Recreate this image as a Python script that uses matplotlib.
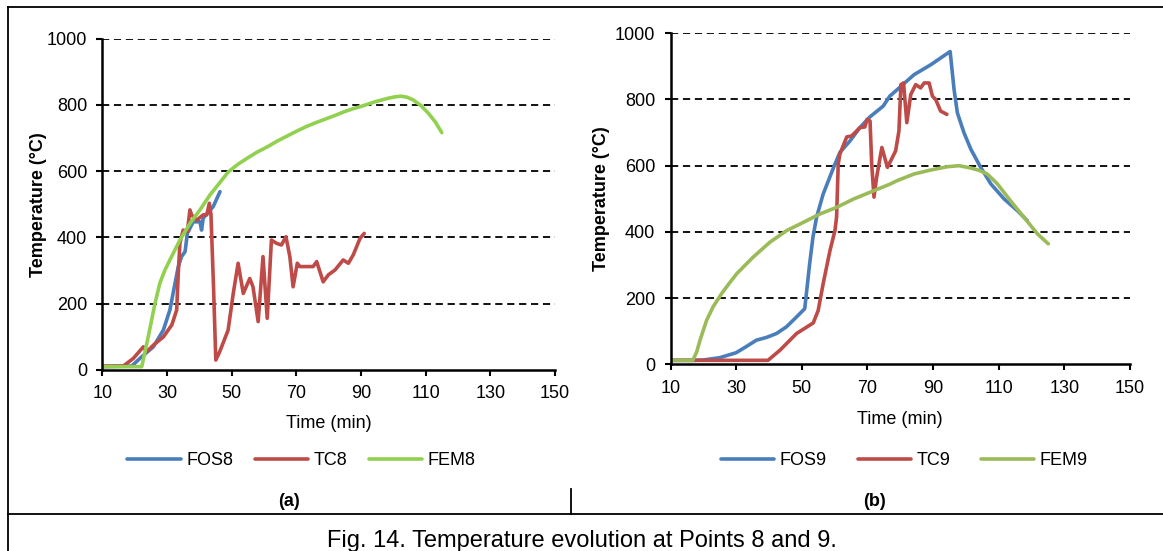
import matplotlib
matplotlib.use('Agg')
import matplotlib.pyplot as plt
from matplotlib.lines import Line2D

plt.rcParams['font.family'] = ['Liberation Sans', 'DejaVu Sans']

# ---- data, panel (a) : point 8
fos8_t = [10, 19.1, 22.2, 25.8, 28.9, 30.9, 32.5, 33.5, 34.5, 35.6, 36.3, 38.1, 40.2, 40.7, 41.2, 44.3, 46.4]
fos8_T = [10, 12, 40, 70, 121, 181, 262, 312, 342, 357, 412, 447, 447, 422, 458, 493, 538]

tc8_t = [10, 16.5, 19.6, 22.7, 23.7, 25.8, 28.9, 31.5, 33, 33.5, 34, 35, 36.3, 37.1, 37.6, 39.2,
         41.2, 42.3, 43.1, 43.6, 44.4, 45.1, 46.3, 48.9, 50.5, 52, 53.6, 55.6, 56.6, 58.2, 59.7,
         61, 62.3, 63.9, 65.4, 66.8, 68, 69, 70.3, 71.1, 75.2, 76.3, 78.3, 79.9, 82, 84.5, 86.1,
         87.6, 89.7, 91]
tc8_T = [12, 12, 35, 70, 55, 75, 100, 136, 181, 292, 382, 422, 417, 483, 468, 452,
         468, 468, 503, 470, 250, 30, 55, 120, 231, 322, 231, 276, 251, 146, 342,
         156, 392, 382, 377, 402, 342, 251, 322, 312, 312, 327, 266, 287, 302, 332, 322,
         347, 397, 412]

fem8_t = [10, 22.2, 24.2, 26.3, 27.8, 29.3, 30.9, 34, 37.1, 40.2, 43.3, 46.4, 49, 52, 55, 58,
          61.2, 64, 67, 70, 73, 76, 79, 82, 84.8, 87.5, 90, 94.3, 98.5, 100.5, 102.3, 104.2,
          106.1, 108.5, 110.9, 113, 115]
fem8_T = [10, 10, 100, 201, 262, 300, 332, 392, 442, 483, 528, 566, 598, 621, 640, 658,
          674, 690, 705, 720, 734, 746, 757, 768, 779, 788, 795, 809, 820, 824, 826, 823,
          815, 798, 774, 748, 716]

# ---- data, panel (b) : point 9
fos9_t = [10, 17, 20, 25, 30, 33, 36.2, 39.2, 42.3, 45.3, 48.4, 50.9, 52.4, 53.4, 54.5, 56.5,
          59.5, 61.6, 64.7, 67.7, 70.7, 74.8, 76.8, 79.1, 84.2, 89.3, 95.2, 96.4, 97.4, 99.4,
          101.5, 104.5, 107.6, 111.6, 115.7, 118.7]
fos9_T = [12, 12, 13, 20, 35, 53, 73, 81, 93, 113, 143, 168, 304, 384, 444, 514,
          590, 640, 675, 715, 747, 780, 810, 830, 875, 905, 945, 830, 760, 700,
          650, 595, 545, 500, 464, 434]

tc9_t = [10, 39.7, 43.4, 48.4, 53.5, 55, 56.5, 58.6, 60.1, 60.6, 61.1, 61.6, 63.7, 65.2, 67.7,
         69.2, 69.9, 70.8, 71.3, 72, 72.8, 74.4, 76.1, 78.6, 79.6, 80.2, 81, 82, 83.2, 84.7,
         86.2, 87.3, 88.8, 89.8, 90.8, 92.3, 94.2]
tc9_T = [12, 12, 43, 93, 125, 163, 243, 344, 404, 444, 605, 635, 687, 690, 715,
         717, 740, 735, 605, 505, 565, 655, 595, 645, 705, 845, 850, 730, 815, 845,
         835, 850, 850, 810, 800, 765, 755]

fem9_t = [10, 16.8, 18, 19, 21, 23, 25.6, 28, 30.2, 35.2, 40.3, 45.4, 50.5, 55.5, 60.6, 65.7, 70.6,
          76.8, 79.1, 84.2, 89.3, 94.4, 97.9, 101.5, 104, 106.5, 109.6, 113.6, 117.7, 121.8, 125.1]
fem9_T = [12, 12, 38, 73, 133, 174, 214, 246, 274, 324, 369, 404, 429, 454, 474, 499, 519,
          544, 555, 575, 587, 597, 600, 593, 586, 575, 545, 494, 444, 394, 364]

x_ticks = [10, 30, 50, 70, 90, 110, 130, 150]
y_ticks = [0, 200, 400, 600, 800, 1000]

W, H = 1163, 551
fig = plt.figure(figsize=(W / 100, H / 100), dpi=100)

blue = '#4A7EBB'
red = '#BE4B48'


def panel(rect, series, green, xlab_y, ylab_x, leg_xy, colsp):
    ax = fig.add_axes(rect)
    for (t, T, name), col in zip(series, [blue, red, green]):
        ax.plot(t, T, color=col, lw=2.6, label=name, solid_joinstyle='round',
                solid_capstyle='round')
    ax.set_xlim(10, 150)
    ax.set_ylim(0, 1000)
    ax.set_xticks(x_ticks)
    ax.set_yticks(y_ticks)
    for v in y_ticks[1:]:
        ax.axhline(v, color='black', lw=1.3, dashes=(4, 2.6), zorder=0)
    for s in ['top', 'right']:
        ax.spines[s].set_visible(False)
    for s in ['left', 'bottom']:
        ax.spines[s].set_linewidth(1.8)
    ax.tick_params(direction='out', length=4, width=1.5, pad=7, labelsize=13)
    ax.set_xlabel('Time (min)', fontsize=13)
    ax.xaxis.set_label_coords(0.5, xlab_y)
    ax.set_ylabel('Temperature (°C)', fontsize=13, fontweight='bold', va='center')
    ax.yaxis.set_label_coords(ylab_x, 0.5)
    ax.legend(loc='center', bbox_to_anchor=leg_xy, bbox_transform=fig.transFigure,
              ncol=3, frameon=False, fontsize=13, handlelength=2.95,
              handletextpad=0.3, columnspacing=colsp)
    return ax


panel([102.3 / W, 1 - 370 / H, 452.7 / W, 331.5 / H],
      [(fos8_t, fos8_T, 'FOS8'), (tc8_t, tc8_T, 'TC8'), (fem8_t, fem8_T, 'FEM8')],
      '#92D050', -0.136, -0.142, (301.5 / W, 1 - 460.7 / H), 1.2)

panel([670.5 / W, 1 - 364.3 / H, 459.5 / W, 331 / H],
      [(fos9_t, fos9_T, 'FOS9'), (tc9_t, tc9_T, 'TC9'), (fem9_t, fem9_T, 'FEM9')],
      '#9BBB59', -0.141, -0.151, (904.5 / W, 1 - 460.7 / H), 1.7)

# table frame around the figure
frame = dict(color='black', lw=1.3, transform=fig.transFigure)
fig.add_artist(Line2D([8 / W, 8 / W], [0, 1 - 7 / H], **frame))
fig.add_artist(Line2D([8 / W, 1], [1 - 7 / H, 1 - 7 / H], **frame))
fig.add_artist(Line2D([8 / W, 1], [1 - 513.5 / H, 1 - 513.5 / H], **frame))
fig.add_artist(Line2D([571 / W, 571 / W], [1 - 489 / H, 1 - 513.5 / H], **frame))

fig.text(289 / W, 1 - 501 / H, '(a)', fontsize=13, fontweight='bold', ha='center', va='center')
fig.text(875 / W, 1 - 501 / H, '(b)', fontsize=13, fontweight='bold', ha='center', va='center')
fig.text(582 / W, 1 - 547 / H, 'Fig. 14. Temperature evolution at Points 8 and 9.',
         fontsize=17, ha='center', va='baseline')

fig.savefig('out.png', dpi=100)
